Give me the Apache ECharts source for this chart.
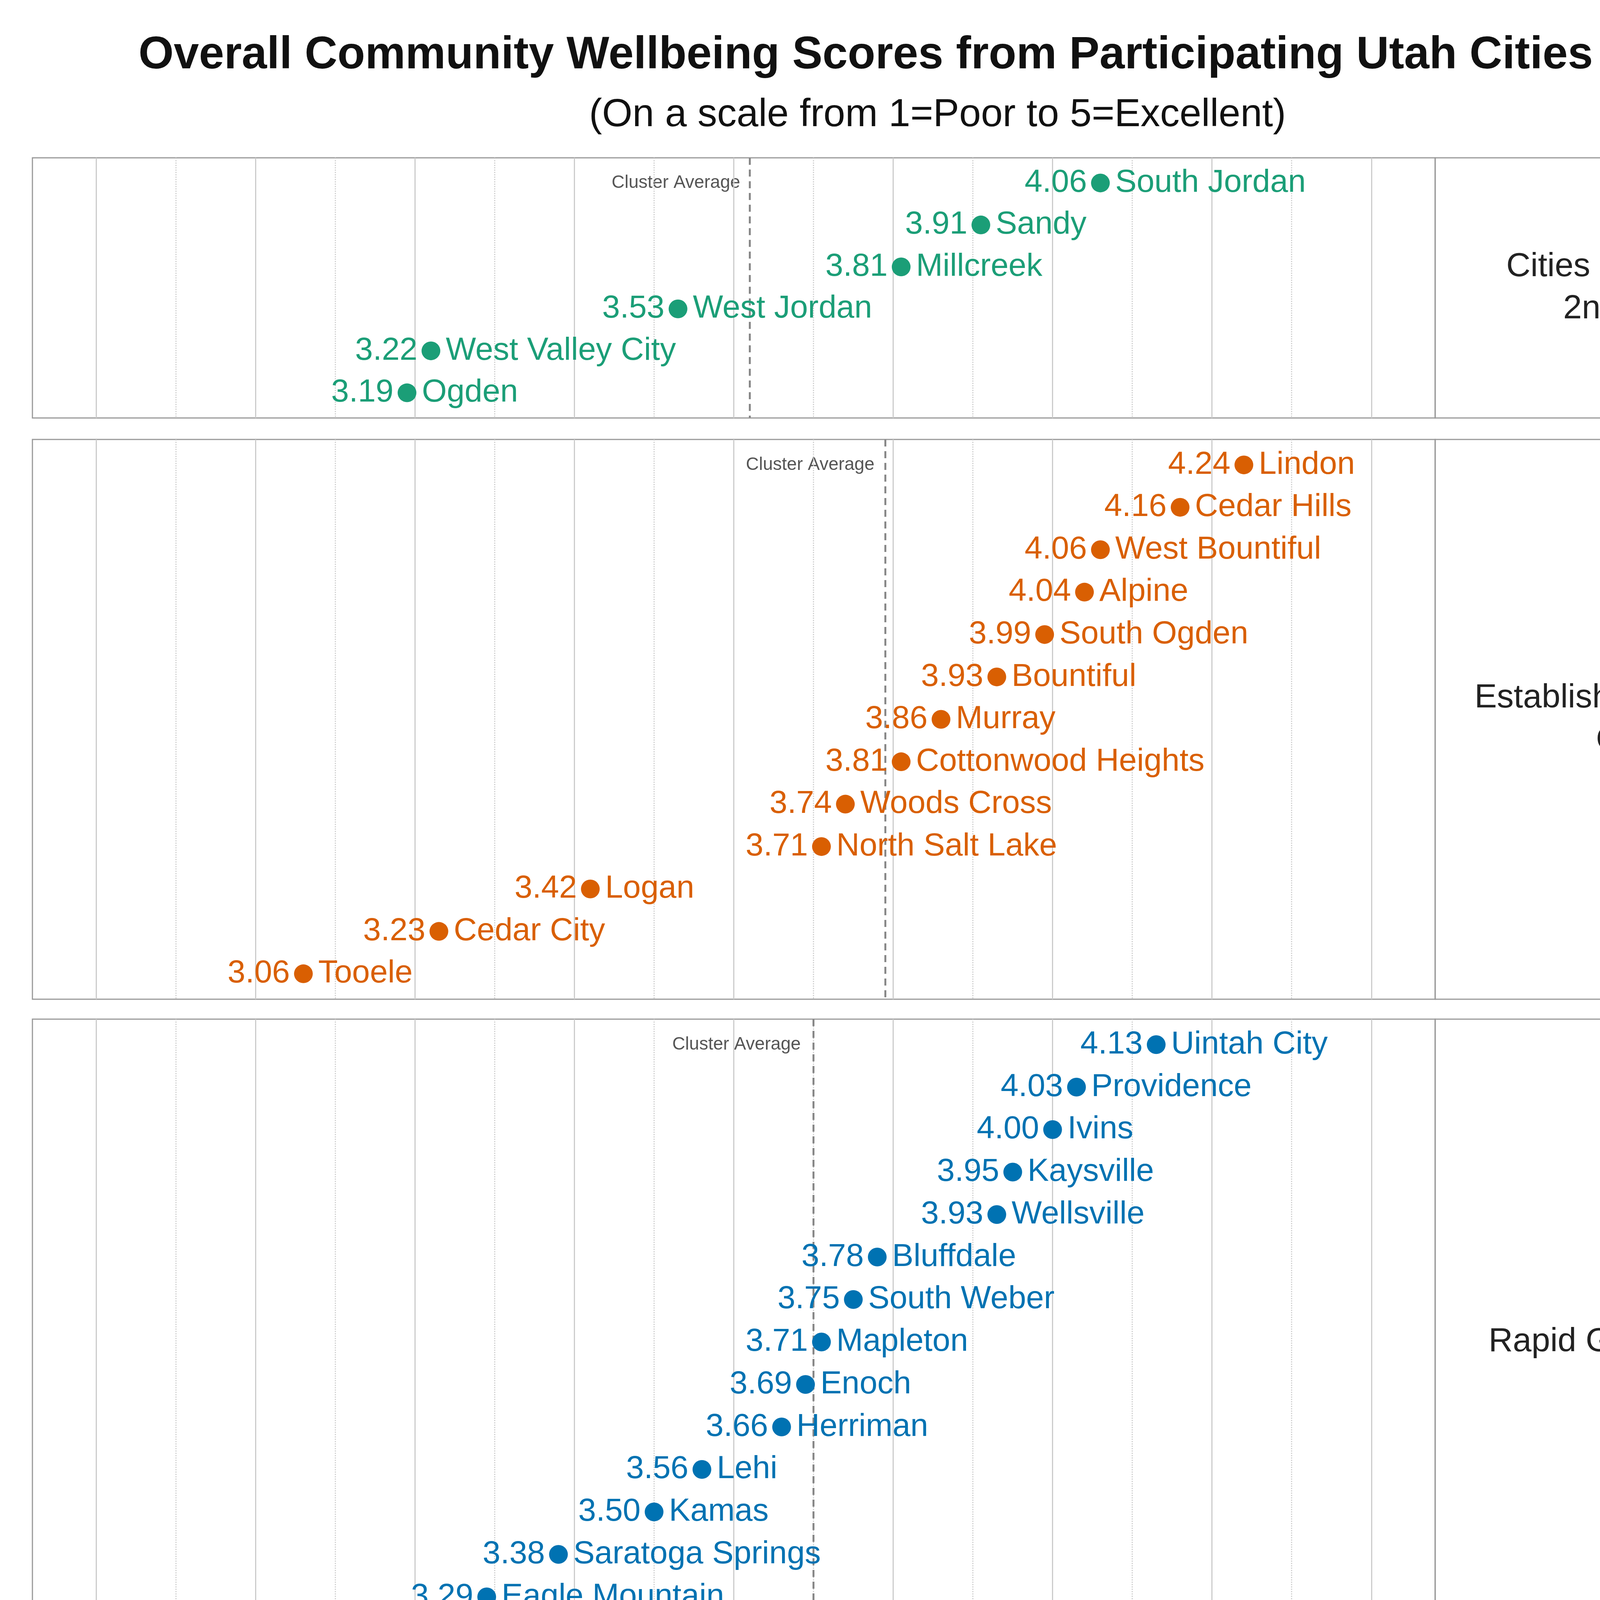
<!DOCTYPE html>
<html><head><meta charset="utf-8">
<script src="https://cdn.jsdelivr.net/npm/echarts@6/dist/echarts.min.js"></script>
<style>html,body{margin:0;padding:0;background:#fff}#c{width:4800px;height:7200px}</style>
</head><body><div id="c"></div>
<script>
const clusterNames = ["Cities of the 1st &\n2nd Class","Established/Mid-sized\nCities","Rapid Growth Cities","Rural Hub/Resort\nCommunities","Traditional Rural\nCommunities"];
const colors = ["#1b9e77","#d95f02","#0072b2","#b2182b","#6a3d9a"];
const cities1 = ["South Jordan","Sandy","Millcreek","West Jordan","West Valley City","Ogden"];
const scores1 = [4.06,3.91,3.81,3.53,3.22,3.19];
const cities2 = ["Lindon","Cedar Hills","West Bountiful","Alpine","South Ogden","Bountiful","Murray","Cottonwood Heights","Woods Cross","North Salt Lake","Logan","Cedar City","Tooele"];
const scores2 = [4.24,4.16,4.06,4.04,3.99,3.93,3.86,3.81,3.74,3.71,3.42,3.23,3.06];
const cities3 = ["Uintah City","Providence","Ivins","Kaysville","Wellsville","Bluffdale","South Weber","Mapleton","Enoch","Herriman","Lehi","Kamas","Saratoga Springs","Eagle Mountain","Grantsville"];
const scores3 = [4.13,4.03,4.00,3.95,3.93,3.78,3.75,3.71,3.69,3.66,3.56,3.50,3.38,3.29,3.08];
const cities4 = ["Midway","Alta","Morgan","Bluff","Springdale","Richfield","Heber","Nephi","Manila","Blanding","Vernal","Moab","Tremonton","Wendover"];
const scores4 = [4.24,4.15,3.89,3.80,3.71,3.57,3.51,3.51,3.51,3.33,3.21,3.12,2.94,2.92];
const cities5 = ["Mayfield","Lewiston","Toquerville","Ferron","Orangeville","Lake Point","La Verkin","Delta","Stockton"];
const scores5 = [4.08,3.99,3.83,3.76,3.72,3.62,3.57,3.35,3.30];
const highlightCity = "Orangeville";
const majorTicks = [2.8,3.0,3.2,3.4,3.6,3.8,4.0,4.2,4.4];
const minorTicks = [2.9,3.1,3.3,3.5,3.7,3.9,4.1,4.3];
const xMin = 2.72, xMax = 4.48;

const clusters = [[cities1,scores1],[cities2,scores2],[cities3,scores3],[cities4,scores4],[cities5,scores5]];
const tops = [404,1125,2609,4308,5907];
const heights = [666,1433,1653,1548,992];
const L = 83, W = 3591, BX = 3674, BW = 1038;
const grid=[],xAxis=[],yAxis=[],series=[],graphic=[];
clusters.forEach(([names,vals],i)=>{
  const n = names.length;
  const avg = vals.reduce((a,b)=>a+b,0)/n;
  grid.push({left:L,top:tops[i],width:W,height:heights[i],show:true,borderColor:'#999',borderWidth:3});
  const last = i===4;
  xAxis.push({type:'value',gridIndex:i,min:xMin,max:xMax,splitLine:{show:false},
    axisLine:{show:false},
    axisTick:{show:last,customValues:majorTicks,length:18,lineStyle:{color:'#555',width:3}},
    axisLabel:{show:last,customValues:majorTicks,fontSize:60,color:'#222',margin:24,formatter:v=>v.toFixed(1)},
    name: last?'Average Score':'',nameLocation:'middle',nameGap:120,nameTextStyle:{fontSize:70,color:'#222'}});
  yAxis.push({type:'value',gridIndex:i,min:-0.6,max:n-0.4,inverse:true,show:false});
  const data = names.map((c,j)=>[vals[j],j,c]);
  const ml = majorTicks.map(v=>({xAxis:v,lineStyle:{color:'#ccc',width:3,type:'solid'}}))
    .concat(minorTicks.map(v=>({xAxis:v,lineStyle:{color:'#d0d0d0',width:3,type:'dotted'}})));
  const hi = names.indexOf(highlightCity);
  series.push({type:'scatter',xAxisIndex:i,yAxisIndex:i,data:[],silent:true,
    markLine:{symbol:'none',silent:true,label:{show:false},animation:false,data:ml},
    markArea: hi>=0?{silent:true,itemStyle:{color:'#e5e5e5',borderColor:colors[i],borderWidth:7,opacity:1},
      data:[[{coord:[2.73,hi-0.45]},{coord:[4.47,hi+0.45]}]]}:undefined});
  series.push({type:'scatter',xAxisIndex:i,yAxisIndex:i,data:[[avg,0]],symbolSize:1,silent:true,z:3,
    itemStyle:{color:'transparent',opacity:1},
    label:{show:true,position:'left',distance:24,formatter:'Cluster Average',fontSize:46,color:'#555'},
    markLine:{symbol:'none',silent:true,animation:false,label:{show:false},
      data:[{xAxis:avg,lineStyle:{color:'#888',width:5,type:[18,12]}}]}});
  series.push({type:'scatter',xAxisIndex:i,yAxisIndex:i,data:data,symbolSize:48,z:5,
    itemStyle:{color:colors[i],opacity:1},
    label:{show:true,position:'right',distance:14,formatter:p=>p.data[2],fontSize:82,color:colors[i]}});
  series.push({type:'scatter',xAxisIndex:i,yAxisIndex:i,data:data,symbolSize:1,z:5,
    itemStyle:{color:'transparent',opacity:1},
    label:{show:true,position:'left',distance:34,formatter:p=>p.data[0].toFixed(2),fontSize:82,color:colors[i]}});
  graphic.push({type:'rect',shape:{x:BX,y:tops[i],width:BW,height:heights[i]},style:{fill:'none',stroke:'#999',lineWidth:3}});
  graphic.push({type:'text',x:BX+BW/2,y:tops[i]+heights[i]/2,style:{text:clusterNames[i],font:'86px "Liberation Sans", Arial',fill:'#222',align:'center',verticalAlign:'middle',lineHeight:108}});
});
const chart = echarts.init(document.getElementById('c'));
chart.setOption({
  animation:false,backgroundColor:'#fff',
  textStyle:{fontFamily:'"Liberation Sans", Arial, sans-serif'},
  title:[{text:'Overall Community Wellbeing Scores from Participating Utah Cities (2026)',left:'center',top:80,textStyle:{fontSize:116,fontWeight:'bold',color:'#111'}},
    {text:'(On a scale from 1=Poor to 5=Excellent)',left:'center',top:240,textStyle:{fontSize:100,fontWeight:'normal',color:'#111'}}],
  grid,xAxis,yAxis,series,graphic
});
</script></body></html>
